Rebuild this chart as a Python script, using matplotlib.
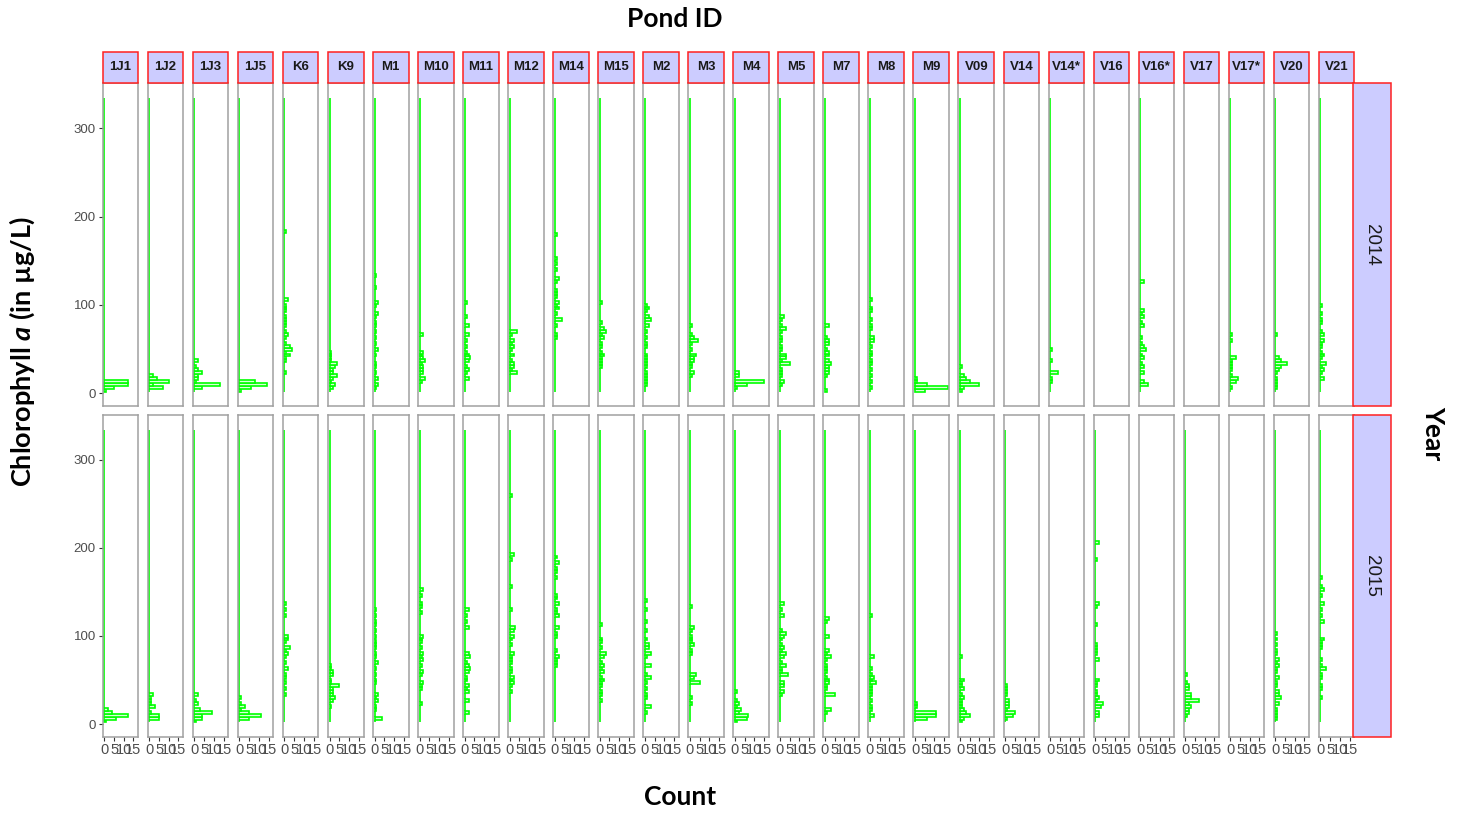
import numpy as np
import matplotlib.pyplot as plt
from matplotlib.patches import Rectangle

plt.rcParams['mathtext.fontset'] = 'custom'
plt.rcParams['mathtext.it'] = 'Lato:italic:bold'
plt.rcParams['mathtext.rm'] = 'Lato:bold'

ponds = ['1J1', '1J2', '1J3', '1J5', 'K6', 'K9', 'M1', 'M10', 'M11', 'M12', 'M14', 'M15',
         'M2', 'M3', 'M4', 'M5', 'M7', 'M8', 'M9', 'V09', 'V14', 'V14*', 'V16', 'V16*',
         'V17', 'V17*', 'V20', 'V21']
years = ['2014', '2015']

# (chlorophyll a value, count); missing = no samples
c14_1J1 = [(15, 3), (12, 9), (9, 12), (6, 5), (4, 1)]
c14_1J2 = [(21, 2), (18, 4), (15, 7), (12, 3), (10, 2), (8, 7)]
c14_1J3 = [(38, 2), (29, 1), (26, 2), (23, 4), (20, 2), (17, 2), (14, 1), (11, 4), (9, 9), (6, 4)]
c14_1J5 = [(15, 2), (12, 6), (9, 14), (7, 6), (4, 1)]
c14_K6 = [(182, 1), (108, 1), (105, 1), (100, 1), (96, 1), (92, 1), (88, 1), (84, 1), (80, 1), (76, 1),
          (70, 1), (66, 2), (62, 1), (58, 1), (55, 3), (51, 4), (47, 1), (44, 3), (40, 1), (36, 1), (23, 1)]
c14_K9 = [(46, 1), (43, 1), (39, 1), (36, 1), (32, 4), (29, 3), (26, 2), (22, 2), (19, 4), (16, 2),
          (13, 1), (9, 3), (6, 2)]
c14_M1 = [(133, 1), (121, 1), (104, 2), (101, 1), (90, 2), (86, 1), (81, 1), (76, 1), (70, 1), (64, 1),
          (58, 1), (49, 2), (43, 1), (35, 1), (30, 1), (23, 1), (17, 2), (11, 2), (7, 1)]
c14_M10 = [(66, 2), (48, 2), (44, 1), (41, 2), (37, 3), (34, 1), (30, 2), (26, 2), (22, 2), (18, 3), (15, 1)]
c14_M11 = [(102, 1), (88, 1), (78, 2), (66, 2), (60, 1), (55, 1), (48, 1), (45, 2), (40, 3), (36, 2),
           (30, 1), (27, 2), (22, 1), (16, 2)]
c14_M12 = [(70, 4), (66, 1), (60, 2), (56, 1), (53, 2), (49, 1), (42, 2), (38, 1), (35, 2), (29, 2),
           (26, 1), (23, 4)]
c14_M14 = [(181, 1), (153, 1), (147, 1), (140, 1), (130, 2), (125, 1), (118, 1), (114, 1), (110, 1),
           (104, 2), (100, 1), (96, 2), (91, 1), (82, 4), (77, 1), (66, 1), (63, 1)]
c14_M15 = [(102, 1), (79, 1), (74, 2), (71, 3), (65, 1), (62, 2), (57, 1), (52, 1), (47, 1), (44, 2),
           (40, 1), (36, 1), (32, 1), (29, 1)]
c14_M2 = [(100, 1), (97, 2), (93, 1), (85, 2), (82, 3), (77, 2), (70, 1), (62, 1), (58, 1), (52, 1),
          (45, 1), (40, 1), (37, 1), (33, 1), (30, 1), (25, 1), (21, 1), (18, 1), (13, 1), (10, 1)]
c14_M3 = [(76, 1), (66, 1), (63, 2), (60, 4), (56, 1), (50, 1), (45, 3), (41, 2), (37, 2), (33, 1),
          (30, 1), (23, 2), (19, 1)]
c14_M4 = [(22, 2), (19, 2), (15, 11), (12, 4), (9, 6), (6, 1)]
c14_M5 = [(86, 2), (82, 1), (78, 1), (74, 3), (70, 1), (63, 1), (60, 1), (55, 1), (50, 1), (45, 3),
          (41, 3), (37, 1), (34, 5), (28, 1), (24, 1), (20, 1), (14, 2), (11, 1)]
c14_M7 = [(75, 2), (64, 1), (60, 2), (56, 2), (51, 1), (47, 2), (42, 2), (38, 2), (35, 3), (31, 2),
          (27, 2), (24, 2), (20, 1), (4, 1)]
c14_M8 = [(108, 1), (98, 1), (92, 1), (84, 1), (77, 1), (72, 1), (64, 2), (60, 2), (55, 1), (48, 1),
          (44, 1), (37, 1), (33, 1), (28, 1), (21, 1), (14, 1), (8, 1)]
c14_M9 = [(16, 1), (13, 1), (10, 6), (8, 17), (5, 5)]
c14_V09 = [(30, 1), (21, 2), (18, 3), (15, 3), (12, 2), (10, 10), (6, 2), (4, 1)]
c14_V14s = [(49, 1), (38, 1), (25, 1), (22, 3), (18, 1), (15, 1)]
c14_V16s = [(126, 2), (93, 2), (89, 1), (85, 2), (81, 1), (75, 2), (64, 1), (57, 1), (54, 2), (49, 3),
            (44, 1), (41, 2), (33, 1), (29, 2), (23, 2), (15, 2), (9, 4)]
c14_V17s = [(66, 1), (60, 1), (41, 3), (38, 1), (34, 1), (30, 1), (26, 1), (20, 1), (16, 4), (12, 3), (8, 1)]
c14_V20 = [(66, 1), (41, 2), (37, 3), (33, 6), (30, 3), (26, 2), (22, 1), (18, 1), (14, 1), (10, 1), (6, 1)]
c14_V21 = [(100, 1), (91, 1), (83, 1), (79, 1), (70, 1), (67, 2), (60, 2), (56, 1), (52, 1), (48, 1),
           (45, 2), (41, 1), (35, 3), (31, 1), (27, 2), (23, 1), (16, 2)]

c15_1J1 = [(18, 2), (15, 3), (12, 1), (10, 12), (7, 6), (4, 1)]
c15_1J2 = [(34, 2), (31, 1), (27, 1), (24, 1), (19, 3), (13, 1), (10, 5), (7, 5)]
c15_1J3 = [(35, 1), (32, 1), (28, 1), (22, 2), (18, 3), (14, 9), (11, 4), (8, 4), (5, 1)]
c15_1J5 = [(31, 1), (25, 1), (21, 3), (17, 1), (14, 5), (9, 11), (6, 5)]
c15_K6 = [(137, 1), (131, 1), (123, 1), (101, 2), (97, 2), (93, 1), (88, 3), (84, 1), (79, 2), (75, 1),
          (70, 1), (64, 2), (57, 1), (52, 1), (47, 1), (40, 1), (34, 1)]
c15_K9 = [(68, 1), (64, 1), (61, 2), (57, 2), (50, 1), (46, 1), (44, 5), (40, 2), (37, 2), (33, 2),
          (30, 3), (27, 2), (20, 1)]
c15_M1 = [(129, 1), (122, 1), (118, 1), (112, 1), (106, 1), (101, 1), (94, 1), (90, 1), (86, 1), (80, 1),
          (76, 1), (69, 2), (63, 1), (57, 1), (50, 1), (46, 1), (35, 2), (31, 1), (26, 2), (20, 1),
          (16, 1), (7, 4)]
c15_M10 = [(154, 2), (148, 1), (137, 1), (133, 1), (128, 1), (101, 2), (96, 1), (92, 1), (85, 1), (81, 2),
           (77, 1), (72, 2), (67, 1), (60, 2), (56, 1), (48, 2), (43, 1), (39, 1), (23, 1)]
c15_M11 = [(129, 2), (124, 1), (118, 1), (111, 2), (81, 2), (77, 3), (71, 1), (67, 2), (63, 3), (59, 2),
           (55, 1), (51, 1), (44, 2), (39, 1), (36, 2), (27, 2), (13, 2)]
c15_M12 = [(258, 1), (192, 2), (186, 1), (157, 1), (130, 1), (109, 3), (105, 2), (101, 2), (96, 1),
           (90, 1), (81, 2), (78, 1), (74, 1), (70, 1), (64, 1), (59, 1), (54, 2), (50, 1), (46, 2),
           (42, 1), (38, 1)]
c15_M14 = [(190, 1), (184, 2), (177, 1), (172, 1), (168, 1), (148, 1), (142, 1), (136, 2), (129, 1),
           (125, 1), (122, 2), (111, 2), (104, 1), (100, 1), (84, 1), (78, 2), (73, 1), (69, 1), (66, 1)]
c15_M15 = [(114, 1), (96, 1), (92, 1), (88, 1), (81, 3), (76, 2), (71, 1), (67, 2), (63, 1), (59, 2),
           (55, 1), (51, 2), (46, 1), (42, 1), (38, 1), (34, 1), (28, 1)]
c15_M2 = [(141, 1), (131, 1), (116, 1), (105, 1), (98, 1), (91, 2), (88, 2), (81, 3), (77, 1), (68, 2),
          (65, 1), (58, 1), (54, 3), (46, 1), (40, 1), (35, 1), (29, 1), (21, 3), (15, 1)]
c15_M3 = [(134, 1), (110, 2), (106, 1), (101, 1), (98, 1), (94, 1), (90, 2), (84, 1), (80, 1), (56, 3),
          (53, 2), (48, 5), (31, 1), (25, 1)]
c15_M4 = [(36, 1), (28, 1), (24, 2), (20, 1), (17, 3), (13, 2), (11, 7), (8, 6), (5, 1)]
c15_M5 = [(137, 2), (130, 1), (122, 2), (106, 1), (103, 3), (99, 2), (95, 1), (90, 1), (87, 2), (82, 1),
          (79, 3), (75, 2), (71, 1), (67, 3), (64, 1), (59, 1), (56, 4), (48, 2), (44, 2), (38, 2), (35, 1)]
c15_M7 = [(120, 2), (115, 1), (101, 2), (84, 2), (80, 1), (76, 3), (72, 1), (68, 1), (64, 1), (59, 1),
          (55, 1), (51, 2), (47, 2), (43, 1), (39, 1), (35, 4), (32, 1), (17, 3), (14, 1)]
c15_M8 = [(122, 1), (78, 2), (63, 1), (58, 1), (55, 2), (51, 1), (48, 3), (44, 1), (40, 1), (37, 1),
          (32, 1), (27, 1), (21, 1), (16, 1), (10, 2)]
c15_M9 = [(23, 1), (19, 1), (15, 3), (12, 8), (9, 11), (6, 6)]
c15_V09 = [(76, 1), (50, 2), (46, 1), (43, 1), (39, 2), (35, 1), (31, 2), (27, 1), (24, 1), (20, 1),
           (16, 2), (13, 3), (11, 5), (8, 2), (5, 1)]
c15_V14 = [(44, 1), (40, 1), (36, 1), (32, 1), (27, 2), (24, 2), (19, 2), (16, 1), (12, 5), (9, 4), (6, 1)]
c15_V16 = [(205, 2), (186, 1), (137, 2), (133, 1), (112, 1), (91, 1), (88, 1), (82, 1), (79, 1), (73, 2),
           (51, 2), (46, 1), (43, 1), (37, 1), (33, 1), (30, 2), (26, 1), (23, 4), (19, 3), (14, 2), (10, 2)]
c15_V17 = [(56, 1), (46, 1), (43, 2), (40, 2), (35, 1), (32, 2), (29, 3), (26, 7), (22, 2), (19, 3),
           (16, 2), (13, 2), (10, 1)]
c15_V20 = [(103, 1), (96, 1), (90, 1), (84, 1), (79, 1), (74, 2), (70, 1), (66, 2), (62, 1), (59, 1),
           (55, 1), (52, 1), (48, 1), (44, 1), (38, 2), (35, 1), (32, 1), (29, 3), (24, 1), (22, 1),
           (18, 1), (15, 1), (11, 1), (8, 1)]
c15_V21 = [(168, 1), (158, 1), (152, 2), (145, 1), (138, 2), (131, 1), (122, 1), (118, 1), (115, 1),
           (97, 2), (93, 1), (89, 1), (85, 1), (72, 1), (68, 1), (63, 3), (58, 1), (53, 1), (45, 1),
           (39, 1), (31, 1)]

# bins shared by all panels (ggplot style, 100 bins over the whole range)
edges = np.linspace(1.8, 334.4, 101)

W, H = 1465, 816
fig = plt.figure(figsize=(W / 100, H / 100), dpi=100)


def box(x0, y0, x1, y1):
    return [x0 / W, 1 - y1 / H, (x1 - x0) / W, (y1 - y0) / H]


def strip(x0, y0, x1, y1):
    fig.add_artist(Rectangle((x0 / W, 1 - y1 / H), (x1 - x0) / W, (y1 - y0) / H,
                             transform=fig.transFigure, facecolor='#ccccff',
                             edgecolor='#ff2020', linewidth=1.1))


rows = [(83.3, 406.0), (415.0, 736.7)]
gray = '#4d4d4d'
tickfont = 'Liberation Sans'

for r, yr in enumerate(years):
    top, bot = rows[r]
    for i, pond in enumerate(ponds):
        x0 = 102.7 + i * 45.04
        x1 = x0 + 35.6
        ax = fig.add_axes(box(x0, top, x1, bot))
        data = globals().get('c' + yr[2:] + '_' + pond.replace('*', 's'))
        if data:
            vals = [v for v, c in data]
            cnts = [c for v, c in data]
            ax.hist(vals, bins=edges, weights=cnts, orientation='horizontal',
                    facecolor='#d8ffd8', edgecolor='#00ff00', linewidth=1.2)
        ax.set_xlim(-0.83, 17.5)
        ax.set_ylim(-14.4, 351)
        for s in ax.spines.values():
            s.set_color('#a0a0a0')
            s.set_linewidth(1.1)
        if i == 0:
            ax.set_yticks([0, 100, 200, 300])
            ax.tick_params(axis='y', length=3, width=0.8, color='#333333', pad=2,
                           labelsize=9.5, labelcolor=gray)
            for t in ax.get_yticklabels():
                t.set_family(tickfont)
        else:
            ax.set_yticks([])
        if r == 1:
            ax.set_xticks([0, 5, 10, 15])
            ax.tick_params(axis='x', length=3, width=0.8, color='#333333', pad=1.5,
                           labelsize=10.5, labelcolor=gray)
            for t in ax.get_xticklabels():
                t.set_family(tickfont)
        else:
            ax.set_xticks([])
        if r == 0:
            strip(x0, 51.7, x1, top)
            fig.text((x0 + x1) / 2 / W, 1 - (51.7 + top) / 2 / H, pond, ha='center', va='center',
                     fontsize=9.5, fontweight='bold', color='#1a1a1a', family=tickfont)
    strip(1353.3, top, 1390.7, bot)
    fig.text(1372 / W, 1 - (top + bot) / 2 / H, yr, ha='center', va='center', rotation=270,
             fontsize=13.5, color='#1a1a1a', family=tickfont)

title_font = 'Lato'
fig.text(675 / W, 1 - 19 / H, 'Pond ID', ha='center', va='center', fontsize=19,
         fontweight='bold', family=title_font)
fig.text(680 / W, 1 - 797 / H, 'Count', ha='center', va='center', fontsize=19,
         fontweight='bold', family=title_font)
fig.text(1433 / W, 1 - 433 / H, 'Year', ha='center', va='center', fontsize=19, rotation=270,
         fontweight='bold', family=title_font)
fig.text(22 / W, 1 - 352 / H, 'Chlorophyll $a$ (in µg/L)', ha='center', va='center',
         fontsize=19.5, rotation=90, fontweight='bold', family=title_font)

fig.savefig('out.png', dpi=100)
